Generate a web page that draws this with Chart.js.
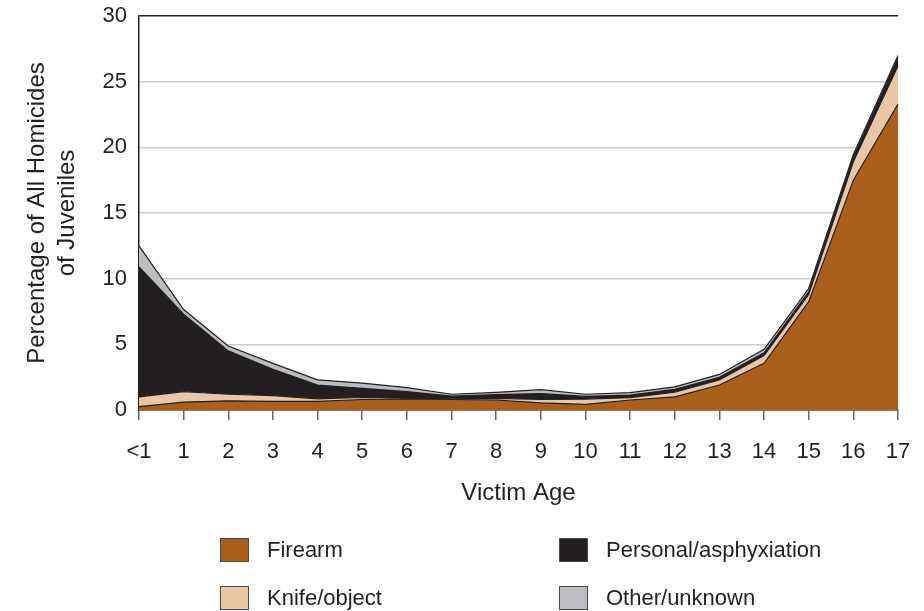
<!DOCTYPE html>
<html>
<head>
<meta charset="utf-8">
<script src="https://cdn.jsdelivr.net/npm/chart.js@4.4.0/dist/chart.umd.min.js"></script>
<style>
  body { margin: 0; background: #fff; }
  #wrap { position: relative; width: 924px; height: 611px; }
  #legend {
    position: absolute; left: 220px; top: 538px;
    display: grid; grid-template-columns: 339px auto; row-gap: 25px;
    font-family: 'Liberation Sans', Arial, sans-serif; font-size: 22px; color: #231F20;
  }
  .item { display: flex; align-items: center; height: 23px; }
  .box { width: 27px; height: 22px; border: 1.5px solid #4a4a4a; margin-right: 18px; }
</style>
</head>
<body>
<div id="wrap">
  <canvas id="myChart" width="924" height="611"></canvas>
  <div id="legend"></div>
</div>
<script>
const ages = ['<1', '1', '2', '3', '4', '5', '6', '7', '8', '9', '10', '11', '12', '13', '14', '15', '16', '17']
const firearm = [0.25, 0.6, 0.7, 0.65, 0.65, 0.8, 0.85, 0.8, 0.76, 0.55, 0.43, 0.76, 1.0, 1.9, 3.55, 8.25, 17.5, 23.3]
const knife = [0.75, 0.8, 0.5, 0.45, 0.2, 0.15, 0.05, 0.05, 0.13, 0.25, 0.4, 0.18, 0.35, 0.38, 0.59, 0.55, 1.4, 2.9]
const personal = [9.9, 5.9, 3.3, 2.0, 1.05, 0.7, 0.5, 0.2, 0.28, 0.45, 0.2, 0.2, 0.23, 0.21, 0.22, 0.2, 0.35, 0.6]
const other = [1.6, 0.35, 0.37, 0.45, 0.4, 0.4, 0.3, 0.15, 0.17, 0.3, 0.17, 0.18, 0.18, 0.22, 0.26, 0.25, 0.2, 0.2]
const yTicks = [0, 5, 10, 15, 20, 25, 30]
// legend reads row by row
const legendOrder = ['Firearm', 'Personal/asphyxiation', 'Knife/object', 'Other/unknown']

const ink = '#231F20'
const font = "'Liberation Sans', Arial, sans-serif"

const area = (label, data, color, fill) => ({
    label: label,
    data: data,
    backgroundColor: color,
    borderColor: ink,
    borderWidth: 1.2,
    pointRadius: 0,
    tension: 0,
    fill: fill
})

const datasets = [
    area('Firearm', firearm, '#AA601B', 'origin'),
    area('Knife/object', knife, '#EBC6A4', '-1'),
    area('Personal/asphyxiation', personal, '#231F20', '-1'),
    area('Other/unknown', other, '#BBBCBF', '-1')
]

const ctx = document.getElementById('myChart').getContext('2d')
const myChart = new Chart(ctx, {
    type: 'line',
    data: { labels: ages, datasets: datasets },
    options: {
        responsive: false,
        animation: false,
        devicePixelRatio: 1,
        layout: { padding: { top: 16, right: 26, bottom: 100, left: 0 } },
        plugins: { legend: { display: false }, tooltip: { enabled: false } },
        scales: {
            x: {
                grid: { drawOnChartArea: false, drawTicks: true, tickLength: 10, color: '#666', lineWidth: 1.5 },
                border: { display: true, color: ink, width: 1.5 },
                ticks: { color: ink, font: { family: font, size: 22 }, padding: 19, maxRotation: 0, autoSkip: false },
                title: { display: true, text: 'Victim Age', color: ink, font: { family: font, size: 24 }, padding: { top: 0, bottom: 3 } },
                afterFit: (scale) => {
                    scale.height = 101
                    scale.paddingLeft = 0
                    scale.paddingRight = 0
                }
            },
            y: {
                stacked: true,
                min: 0,
                max: 30,
                afterBuildTicks: (scale) => { scale.ticks = yTicks.map(v => ({ value: v })) },
                grid: {
                    drawTicks: false,
                    lineWidth: 1.5,
                    color: (c) => c.tick && c.tick.value === 30 ? ink : '#CCCCCC'
                },
                border: { display: true, color: ink, width: 1.5 },
                ticks: { color: ink, font: { family: font, size: 22 }, padding: 12 },
                title: {
                    display: true,
                    text: ['Percentage of All Homicides', 'of Juveniles'],
                    color: ink,
                    font: { family: font, size: 24, lineHeight: 1.25 },
                    padding: { top: 22, bottom: 0 }
                },
                afterFit: (scale) => {
                    scale.width = 139
                    scale.paddingTop = 0
                    scale.paddingBottom = 0
                }
            }
        }
    }
})

const legendEl = document.getElementById('legend')
legendOrder.forEach(name => {
    const ds = datasets.find(d => d.label === name)
    const item = document.createElement('div')
    item.className = 'item'
    const box = document.createElement('span')
    box.className = 'box'
    box.style.background = ds.backgroundColor
    const txt = document.createElement('span')
    txt.textContent = ds.label
    item.appendChild(box)
    item.appendChild(txt)
    legendEl.appendChild(item)
})
</script>
</body>
</html>
